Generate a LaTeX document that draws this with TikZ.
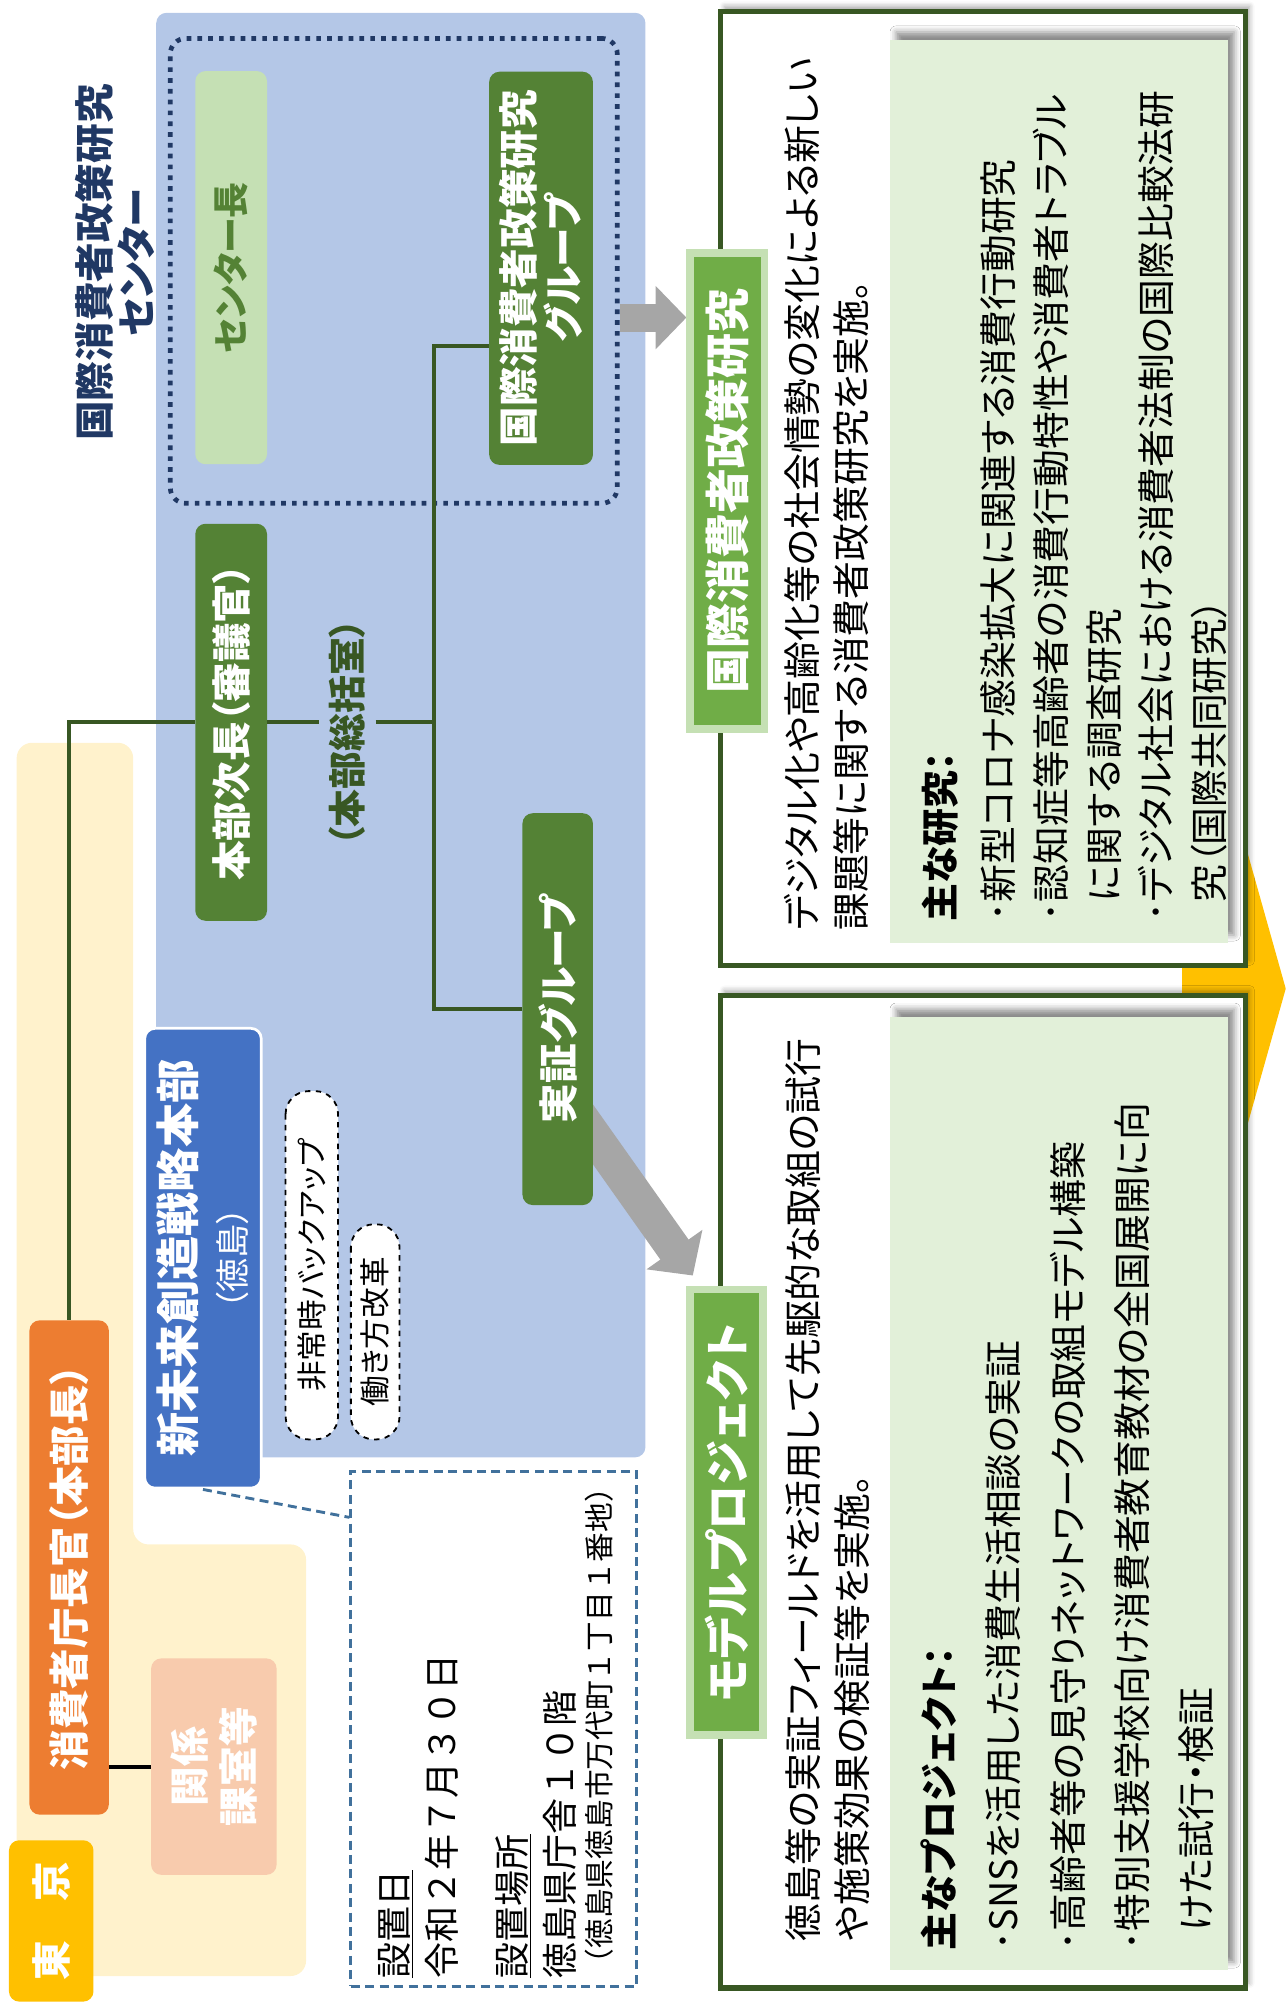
\documentclass[tikz,border=0pt]{standalone}
\usepackage{fontspec}
\setmainfont{Noto Sans CJK JP}[RawFeature=+palt]
\newfontfamily\fullwidth{Noto Sans CJK JP}
\usetikzlibrary{positioning,calc,arrows.meta,shadows.blur,backgrounds}
\definecolor{cream}{HTML}{FFF2CC}
\definecolor{skyblue}{HTML}{B4C7E7}
\definecolor{navy}{HTML}{203864}
\definecolor{leaf}{HTML}{548235}
\definecolor{paleleaf}{HTML}{C5E0B4}
\definecolor{darkleaf}{HTML}{385723}
\definecolor{tabgreen}{HTML}{70AD47}
\definecolor{mint}{HTML}{E2F0D9}
\definecolor{royal}{HTML}{4472C4}
\definecolor{steel}{HTML}{41719C}
\definecolor{carrot}{HTML}{ED7D31}
\definecolor{peach}{HTML}{F8CBAD}
\definecolor{gold}{HTML}{FFC000}
\definecolor{ash}{HTML}{A6A6A6}
\newcommand{\pu}{0.025cm}
\newcommand{\jfs}[2]{\fontsize{#1}{#2}\selectfont}
\tikzset{
  greenbox/.style={rotate=90, fill=leaf, rounded corners=0.2cm, inner sep=0pt, text=white, font=\bfseries\jfs{22}{25}},
  palebox/.style={greenbox, fill=paleleaf, text=leaf, font=\bfseries\jfs{20}{20}},
  dashpill/.style={rotate=90, draw=black, dashed, fill=white, line width=1pt, rounded corners=0.45cm, inner sep=0pt, font=\jfs{17}{17}},
  dotbox/.style={draw=navy, line width=2.6pt, dash pattern=on 2.6pt off 3.4pt, rounded corners=0.3cm},
  bigbox/.style={draw=darkleaf, line width=3pt, fill=white, blur shadow={shadow xshift=0.08cm, shadow yshift=0.1cm, shadow blur radius=0.1cm, shadow opacity=35}},
  panel/.style={fill=mint, blur shadow={shadow xshift=0.12cm, shadow yshift=0.15cm, shadow blur radius=0.12cm, shadow opacity=45}},
  tab/.style={rotate=90, fill=tabgreen, draw=paleleaf, line width=0.15cm, inner sep=0pt, text=white, font=\bfseries\jfs{25}{25}},
  bodytext/.style={rotate=90, inner sep=0pt, align=left, anchor=north west, font=\jfs{21}{27.4}},
  infotext/.style={rotate=90, inner sep=0pt, anchor=base west, font=\fullwidth\jfs{20}{20}},
  link/.style={draw=darkleaf, line width=2.3pt},
  callout/.style={draw=steel, line width=1.6pt, dash pattern=on 5pt off 3pt},
  grayarr/.style={draw=ash, line width=0.55cm, -{Triangle[width=1.2cm,length=0.6cm]}}
}

\begin{document}
\begin{tikzpicture}[x=\pu, y=-\pu]
  \useasboundingbox (0,0) rectangle (1004,1568);

  % center and headquarters
  \node[dotbox, minimum width=349*\pu, minimum height=363*\pu] (ctr) at (307.5,211.5) {};
  \node[rotate=90, align=center, text=navy, font=\bfseries\jfs{22}{23.5}] (ctrname) at (89.5,205) {国際消費者政策研究\\センター};
  \node[palebox, minimum width=307*\pu, minimum height=56*\pu] (chief) at (180.5,209) {センター長};
  \node[greenbox, minimum width=307*\pu, minimum height=81*\pu, align=center] (grp) at (422.5,209.5) {国際消費者政策研究\\グループ};
  \node[greenbox, minimum width=310*\pu, minimum height=56*\pu] (deputy) at (180.5,564) {本部次長（審議官）};
  \node[rotate=90, inner sep=0pt, minimum height=44*\pu, text=darkleaf, font=\bfseries\jfs{21}{21}] (office) at (271,572) {（本部総括室）};
  \node[greenbox, minimum width=306*\pu, minimum height=55*\pu] (field) at (435.5,788) {実証グループ};
  \node[greenbox, fill=royal, draw=white, line width=1.5pt, minimum width=359*\pu, minimum height=91*\pu, align=center, font=\jfs{24.5}{28.5}] (hq) at (158.5,982.5) {\bfseries 新未来創造戦略本部\\\mdseries\jfs{19}{28.5}（徳島）};
  \node[dashpill, minimum width=272*\pu, minimum height=41*\pu] (backup) at (243.5,988) {非常時バックアップ};
  \node[dashpill, minimum width=168*\pu, minimum height=38*\pu] (reform) at (293,1040) {働き方改革};

  % Tokyo side
  \node[greenbox, fill=carrot, minimum width=386*\pu, minimum height=62*\pu, font=\bfseries\jfs{22.5}{25}] (head) at (54,1224) {消費者庁長官（本部長）};
  \node[greenbox, fill=peach, minimum width=169*\pu, minimum height=98*\pu, align=center, font=\bfseries\jfs{22}{27}] (units) at (167,1379.5) {関係\\課室等};
  \node[greenbox, fill=gold, minimum width=126*\pu, minimum height=66*\pu] (tokyo) at (40,1500) {東　京};

  % setup data
  \node[callout, minimum width=223*\pu, minimum height=402*\pu] (info) at (385.5,1350) {};
  \node[infotext] (dayhead) at (318,1545) {\underline{設置日}};
  \node[infotext] (day) at (356,1545) {令和２年７月３０日};
  \node[infotext] (placehead) at (410,1545) {\underline{設置場所}};
  \node[infotext] (place) at (448,1545) {徳島県庁舎１０階};
  \node[infotext, font=\fullwidth\jfs{16.5}{16.5}] (address) at (477,1545) {（徳島県徳島市万代町１丁目１番地）};

  % research and projects
  \node[bigbox, minimum width=410*\pu, minimum height=745*\pu] (resbox) at (767.5,381.5) {};
  \node[bigbox, minimum width=410*\pu, minimum height=775*\pu] (modbox) at (767.5,1165) {};
  \node[panel, minimum width=264*\pu, minimum height=705*\pu] (respanel) at (827,383.5) {};
  \node[panel, minimum width=264*\pu, minimum height=744*\pu] (modpanel) at (827,1166) {};
  \node[tab, minimum width=372*\pu, minimum height=58*\pu] (restab) at (568,383.5) {国際消費者政策研究};
  \node[tab, minimum width=348*\pu, minimum height=57*\pu] (modtab) at (567.5,1181) {モデルプロジェクト};

  \node[bodytext] (resdesc) at (612,727) {デジタル化や高齢化等の社会情勢の変化による新しい\\課題等に関する消費者政策研究を実施。};
  \node[bodytext] (moddesc) at (613,1516) {徳島等の実証フィールドを活用して先駆的な取組の試行\\や施策効果の検証等を実施。};
  \node[bodytext, font=\jfs{21}{29.2}] (resitems) at (720,719.5) {{\bfseries 主な研究：}\\[3pt]
    ･新型コロナ感染拡大に関連する消費行動研究\\
    ･認知症等高齢者の消費行動特性や消費者トラブル\\
    \hspace*{0.5em}に関する調査研究\\
    ･デジタル社会における消費者法制の国際比較法研\\
    \hspace*{0.5em}究（国際共同研究）};
  \node[bodytext, font=\jfs{21}{35.6}] (moditems) at (719,1523) {{\bfseries 主なプロジェクト：}\\
    ･SNSを活用した消費生活相談の実証\\
    ･高齢者等の見守りネットワークの取組モデル構築\\
    ･特別支援学校向け消費者教育教材の全国展開に向\\
    \hspace*{0.5em}けた試行・検証};

  % connectors
  \coordinate (trunk) at (339,270);
  \draw[link] (head.east) |- (deputy.north);
  \draw[link] (deputy.south) -- (deputy.south -| office.north);
  \draw[link] (deputy.south -| office.south) -- (deputy.south -| trunk);
  \draw[link] (grp.north |- trunk) -- (trunk) |- (field.north);
  \draw[black, line width=2.3pt] (head.south |- units) -- (units.north);
  \draw[callout] (hq.west) -- ($(info.north west)+(0,37)$);

  \begin{scope}[on background layer]
    \fill[cream, rounded corners=0.3cm] (13,580) -- (104,580) -- (104,1206) -- (239,1206) -- (239,1543) -- (13,1543) -- cycle;
    \fill[skyblue, rounded corners=0.2cm] (122,10) rectangle (504,1138);
    \coordinate (fromgrp) at (484,248);
    \draw[grayarr] (fromgrp) -- (fromgrp -| restab.north);
    \coordinate (fromfield) at (437,849);
    \coordinate (tofield) at (541,996);
    \draw[grayarr, line width=0.675cm, -{Triangle[width=1.3cm,length=0.62cm]}] (fromfield) -- (tofield);
    \fill[gold] (923,740) -- (950,740) -- (950,580) -- (1004,772) -- (950,964) -- (950,804) -- (923,804) -- cycle;
  \end{scope}
\end{tikzpicture}
\end{document}
